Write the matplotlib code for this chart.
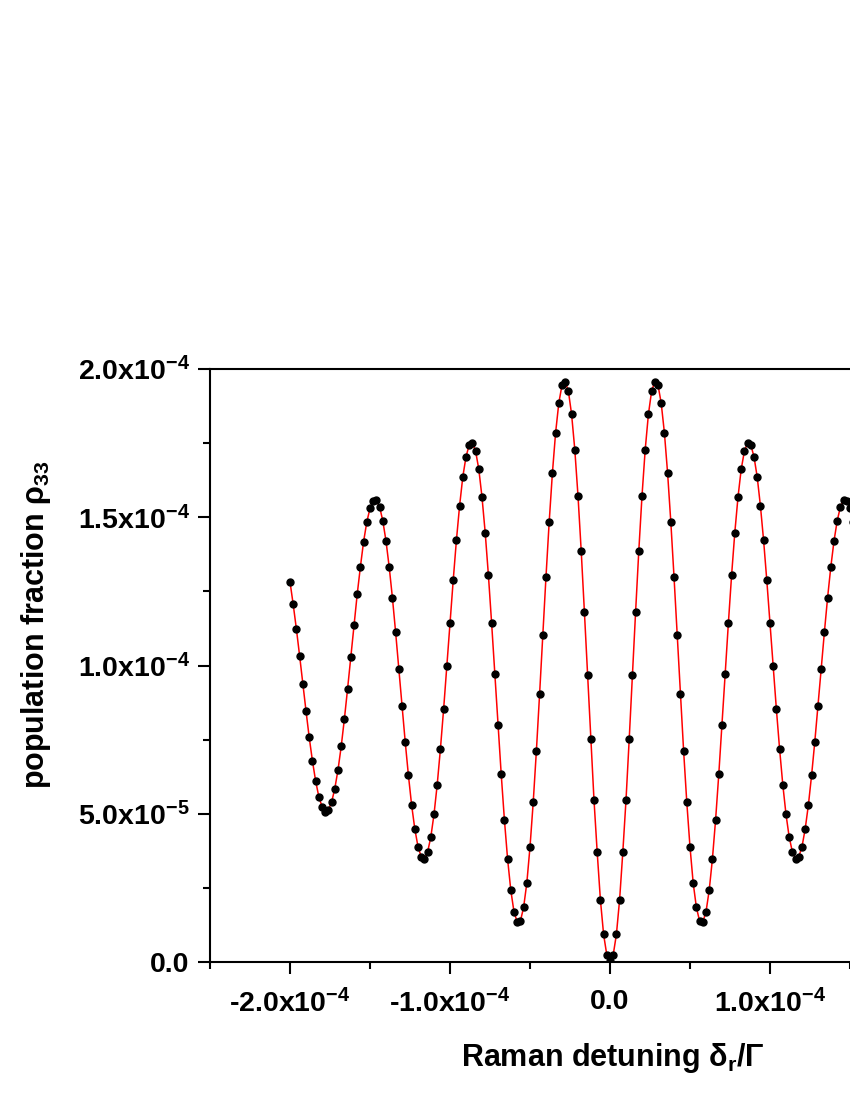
import matplotlib
matplotlib.use("Agg")
import matplotlib.pyplot as plt
import numpy as np
from matplotlib.ticker import FixedLocator, FixedFormatter

# detuning grid (units of Gamma), sampled every 2e-6 from -2e-4 to 2e-4
detuning = np.linspace(-2e-4, 2e-4, 201)

# rho_33, in units of 1e-4
rho_left = [
    1.282, 1.206, 1.123, 1.033, 0.939, 0.847, 0.758, 0.679, 0.611, 0.558,
    0.524, 0.507, 0.513, 0.539, 0.585, 0.648, 0.727, 0.820, 0.922, 1.029,
    1.136, 1.240, 1.333, 1.418, 1.484, 1.530, 1.555, 1.558, 1.535, 1.488,
    1.420, 1.332, 1.229, 1.113, 0.989, 0.864, 0.743, 0.630, 0.530, 0.449,
    0.389, 0.355, 0.348, 0.371, 0.421, 0.498, 0.598, 0.718, 0.852, 0.997,
    1.144, 1.287, 1.422, 1.539, 1.636, 1.704, 1.744, 1.751, 1.723, 1.662,
    1.568, 1.448, 1.305, 1.144, 0.973, 0.801, 0.634, 0.480, 0.347, 0.242,
    0.169, 0.135, 0.138, 0.184, 0.266, 0.388, 0.538, 0.713, 0.904, 1.103,
    1.300, 1.485, 1.649, 1.785, 1.885, 1.946, 1.957, 1.925, 1.847, 1.728,
    1.572, 1.387, 1.181, 0.967, 0.751, 0.546, 0.370, 0.210, 0.093, 0.024,
]
rho_center = [0.005]
rho_right = [
    0.024, 0.093, 0.210, 0.370, 0.546, 0.751, 0.967, 1.181, 1.387, 1.572,
    1.728, 1.847, 1.925, 1.957, 1.946, 1.885, 1.785, 1.649, 1.485, 1.300,
    1.103, 0.904, 0.713, 0.538, 0.388, 0.266, 0.184, 0.138, 0.135, 0.169,
    0.242, 0.347, 0.480, 0.634, 0.801, 0.973, 1.144, 1.305, 1.448, 1.568,
    1.662, 1.723, 1.751, 1.744, 1.704, 1.636, 1.539, 1.422, 1.287, 1.144,
    0.997, 0.852, 0.718, 0.598, 0.498, 0.421, 0.371, 0.348, 0.355, 0.389,
    0.449, 0.530, 0.630, 0.743, 0.864, 0.989, 1.113, 1.229, 1.332, 1.420,
    1.488, 1.535, 1.558, 1.555, 1.530, 1.484, 1.418, 1.333, 1.240, 1.136,
    1.029, 0.922, 0.820, 0.727, 0.648, 0.585, 0.539, 0.513, 0.507, 0.524,
    0.558, 0.611, 0.679, 0.758, 0.847, 0.939, 1.033, 1.123, 1.206, 1.282,
]
rho33 = np.array(rho_left + rho_center + rho_right) * 1e-4

x_major = [-2e-4, -1e-4, 0.0, 1e-4]
x_major_labels = ['-2.0x10$^{-4}$', '-1.0x10$^{-4}$', '0.0', '1.0x10$^{-4}$']
x_minor = [-2.5e-4, -1.5e-4, -0.5e-4, 0.5e-4, 1.5e-4, 2.5e-4]
y_major = [0.0, 5e-5, 1e-4, 1.5e-4, 2e-4]
y_major_labels = ['0.0', '5.0x10$^{-5}$', '1.0x10$^{-4}$', '1.5x10$^{-4}$', '2.0x10$^{-4}$']
y_minor = [2.5e-5, 7.5e-5, 1.25e-4, 1.75e-4]

plt.rcParams['font.family'] = ['Liberation Sans', 'DejaVu Sans']
plt.rcParams['font.weight'] = 'bold'
plt.rcParams['mathtext.fontset'] = 'custom'
plt.rcParams['mathtext.rm'] = 'Liberation Sans:bold'
plt.rcParams['mathtext.it'] = 'Liberation Sans:bold'
plt.rcParams['mathtext.bf'] = 'Liberation Sans:bold'
plt.rcParams['mathtext.sf'] = 'Liberation Sans'
plt.rcParams['mathtext.default'] = 'rm'

fig = plt.figure(figsize=(8.5, 11), dpi=100)
# axes runs past the right edge of the page, like the cropped original
ax = fig.add_axes([210 / 850, 138 / 1100, 800 / 850, 593 / 1100])

ax.plot(detuning, rho33, color='red', linewidth=1.1, zorder=2)
ax.plot(detuning, rho33, 'o', color='black', markersize=5, zorder=3)

ax.set_xlim(-2.5e-4, 2.5e-4)
ax.set_ylim(0, 2e-4)

ax.xaxis.set_major_locator(FixedLocator(x_major))
ax.xaxis.set_major_formatter(FixedFormatter(x_major_labels))
ax.xaxis.set_minor_locator(FixedLocator(x_minor))
ax.yaxis.set_major_locator(FixedLocator(y_major))
ax.yaxis.set_major_formatter(FixedFormatter(y_major_labels))
ax.yaxis.set_minor_locator(FixedLocator(y_minor))

ax.tick_params(which='major', direction='out', length=8.6, width=1.5, labelsize=20.5, pad=6)
ax.tick_params(axis='x', which='major', pad=11)
ax.tick_params(which='minor', direction='out', length=5, width=1.5)
ax.tick_params(top=False, right=False, which='both')
for s in ax.spines.values():
    s.set_linewidth(1.5)

fig.text(36 / 850, 1 - 625 / 1100, r'population fraction $\mathsf{\rho}_{33}$',
         rotation=90, ha='center', va='center', fontsize=22, fontweight='bold')
fig.text(613 / 850, 1 - 1058 / 1100, r'Raman detuning $\mathsf{\delta}_r/\mathsf{\Gamma}$',
         ha='center', va='center', fontsize=22, fontweight='bold')

fig.savefig('out.png', dpi=100)
